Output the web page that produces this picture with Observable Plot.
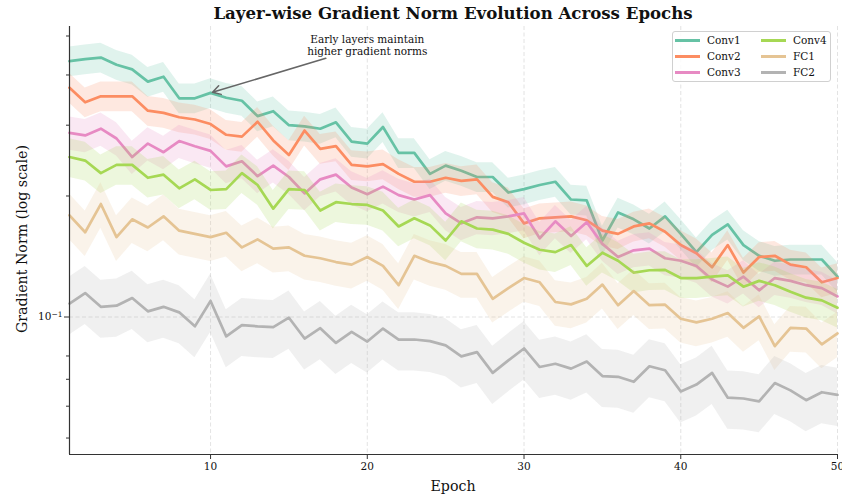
<!DOCTYPE html>
<html><head><meta charset="utf-8">
<script src="https://cdn.jsdelivr.net/npm/d3@7"></script>
<script src="https://cdn.jsdelivr.net/npm/@observablehq/plot@0.6"></script>
<style>
body{margin:0;background:#fff;font-family:"DejaVu Serif",serif;color:#111;}
#wrap{position:relative;width:842px;height:498px;overflow:hidden;}
#title{position:absolute;left:69px;width:768px;top:4px;text-align:center;font-weight:bold;font-size:16.6px;line-height:19px;}
#ylab{position:absolute;left:22px;top:239px;transform:translate(-50%,-50%) rotate(-90deg);font-size:14.2px;white-space:nowrap;}
#xlab{position:absolute;left:453px;top:486px;transform:translate(-50%,-50%);font-size:14.2px;white-space:nowrap;}
#legend{position:absolute;left:672px;top:31px;width:157px;height:49px;border:1px solid #d0d0d0;border-radius:3px;background:rgba(255,255,255,0.85);font-size:10.5px;}
.li{position:absolute;display:flex;align-items:center;height:14px;transform:translateY(-50%);}
.sw{display:inline-block;width:25px;height:3px;margin-right:7px;}
</style></head>
<body>
<div id="wrap">
  <div id="chart"></div>
  <div id="title">Layer-wise Gradient Norm Evolution Across Epochs</div>
  <div id="ylab">Gradient Norm (log scale)</div>
  <div id="xlab">Epoch</div>
  <div id="legend"></div>
</div>
<script>
const epochs = d3.range(1, 51);
const layers = ["Conv1", "Conv2", "Conv3", "Conv4", "FC1", "FC2"];
const colors = ["#66c2a5", "#fc8d62", "#e78ac3", "#a6d854", "#e5c494", "#b3b3b3"];
const spread = [0.085, 0.085, 0.095, 0.11, 0.13, 0.165];

const conv1 = [0.433,0.438,0.442,0.424,0.413,0.385,0.396,0.350,0.350,0.361,
               0.351,0.345,0.316,0.325,0.300,0.298,0.294,0.305,0.273,0.270,
               0.297,0.256,0.256,0.227,0.238,0.231,0.223,0.223,0.204,0.208,
               0.213,0.217,0.196,0.195,0.155,0.182,0.175,0.166,0.178,0.161,
               0.145,0.160,0.170,0.151,0.142,0.138,0.139,0.139,0.139,0.126];
const conv2 = [0.372,0.342,0.354,0.354,0.354,0.326,0.322,0.314,0.310,0.302,
               0.284,0.281,0.306,0.275,0.253,0.291,0.262,0.266,0.239,0.237,
               0.240,0.227,0.217,0.217,0.222,0.218,0.220,0.199,0.193,0.171,
               0.176,0.177,0.178,0.174,0.164,0.161,0.168,0.171,0.163,0.151,
               0.144,0.133,0.151,0.129,0.141,0.142,0.135,0.133,0.122,0.125];
const conv3 = [0.287,0.283,0.294,0.278,0.250,0.270,0.257,0.274,0.266,0.259,
               0.237,0.244,0.224,0.238,0.223,0.203,0.220,0.226,0.210,0.202,
               0.211,0.201,0.196,0.201,0.181,0.171,0.177,0.176,0.178,0.181,
               0.157,0.173,0.159,0.172,0.152,0.141,0.1465,0.148,0.140,0.138,
               0.134,0.124,0.119,0.126,0.1165,0.125,0.123,0.120,0.118,0.1125];
const conv4 = [0.250,0.245,0.228,0.239,0.239,0.222,0.226,0.209,0.220,0.207,
               0.208,0.228,0.213,0.186,0.208,0.207,0.184,0.193,0.191,0.190,
               0.184,0.168,0.176,0.169,0.155,0.173,0.166,0.165,0.161,0.153,
               0.147,0.145,0.151,0.134,0.1445,0.138,0.129,0.1307,0.131,0.125,
               0.125,0.126,0.127,0.119,0.123,0.120,0.1155,0.1117,0.110,0.1055];
const fc1 =   [0.179,0.1625,0.191,0.158,0.175,0.167,0.178,0.164,0.161,0.158,
               0.162,0.149,0.156,0.148,0.149,0.142,0.140,0.137,0.135,0.141,
               0.134,0.120,0.142,0.137,0.134,0.128,0.128,0.111,0.118,0.125,
               0.122,0.109,0.1075,0.111,0.1204,0.107,0.116,0.107,0.1073,0.099,
               0.097,0.099,0.1023,0.094,0.1004,0.0846,0.094,0.0936,0.0855,0.091];
const fc2 =   [0.108,0.1147,0.106,0.1067,0.1115,0.1033,0.106,0.1027,0.0948,0.1096,
               0.0895,0.0955,0.0948,0.0944,0.0996,0.0884,0.0938,0.0862,0.0918,0.0869,
               0.0936,0.0879,0.0879,0.0871,0.085,0.0798,0.0818,0.0726,0.078,0.0835,
               0.0751,0.0765,0.0744,0.0775,0.0713,0.071,0.069,0.0754,0.0737,0.0653,
               0.0679,0.0726,0.063,0.0627,0.0617,0.0685,0.0657,0.0621,0.065,0.064];

const xTicks = [10, 20, 30, 40, 50];
const yMajor = [0.1];
const yMajorLabel = ["10", "−1"];
const yMinor = [0.05, 0.06, 0.07, 0.08, 0.2, 0.3, 0.4, 0.5];
const yDomain = [0.0455, 0.528];
const annotation = {x: 20, y: 0.475, text: "Early layers maintain\nhigher gradient norms"};
const arrowFrom = {x: 17.35, y: 0.44};
const arrowEpoch = 10;

const series = [conv1, conv2, conv3, conv4, fc1, fc2];

const marks = [
  Plot.gridX(xTicks, {stroke: "#b0b0b0", strokeOpacity: 0.45, strokeDasharray: "4,2.5", strokeWidth: 0.8}),
  Plot.gridY(yMajor, {stroke: "#b0b0b0", strokeOpacity: 0.45, strokeDasharray: "4,2.5", strokeWidth: 0.8})
];
layers.forEach((name, i) => {
  const rows = epochs.map((e, j) => ({
    epoch: e, v: series[i][j],
    lo: series[i][j] * (1 - spread[i]),
    hi: series[i][j] * (1 + spread[i])
  }));
  marks.push(Plot.areaY(rows, {x: "epoch", y1: "lo", y2: "hi", fill: colors[i], fillOpacity: 0.2}));
  marks.push(Plot.lineY(rows, {x: "epoch", y: "v", stroke: colors[i], strokeWidth: 2.7}));
});
marks.push(
  Plot.ruleX([1], {stroke: "#333", strokeWidth: 1.2}),
  Plot.ruleY([yDomain[0]], {stroke: "#333", strokeWidth: 1.2}),
  Plot.axisX(xTicks, {tickSize: 5, tickPadding: 3, fontSize: 10.5, stroke: "#333", label: null}),
  Plot.axisY(yMajor, {tickSize: 5, tickPadding: 2, fontSize: 10.5, stroke: "#333", tickFormat: () => "10^-1", label: null}),
  Plot.axisY(yMinor, {tickSize: 3, stroke: "#333", tickFormat: () => "", label: null}),
  Plot.arrow([{x1: arrowFrom.x, y1: arrowFrom.y, x2: arrowEpoch, y2: conv1[arrowEpoch - 1]}],
    {x1: "x1", y1: "y1", x2: "x2", y2: "y2", stroke: "#666", strokeWidth: 1.5, headLength: 9, insetEnd: 2, bend: 0}),
  Plot.text([annotation], {x: "x", y: "y", text: "text", fontSize: 10.5, lineHeight: 1.15, textAnchor: "middle", lineAnchor: "middle", fill: "#111"})
);

const chart = Plot.plot({
  width: 842, height: 498,
  marginLeft: 69, marginRight: 5, marginTop: 26, marginBottom: 44,
  style: {fontFamily: "DejaVu Serif", background: "white", color: "#111", overflow: "visible"},
  x: {domain: [1, 50]},
  y: {type: "log", domain: yDomain},
  marks
});
// render the 10^-1 label with a proper superscript
d3.select(chart).selectAll("text").filter(function () { return this.textContent === "10^-1"; })
  .each(function () {
    const t = d3.select(this);
    t.text(null);
    t.append("tspan").text(yMajorLabel[0]);
    t.append("tspan").attr("font-size", "7.5px").attr("dy", "-0.45em").text(yMajorLabel[1]);
  });
document.getElementById("chart").appendChild(chart);

const legend = document.getElementById("legend");
layers.forEach((name, i) => {
  const col = Math.floor(i / 3), row = i % 3;
  const d = document.createElement("div");
  d.className = "li";
  d.style.left = (2 + col * 86) + "px";
  d.style.top = (8 + row * 16.2) + "px";
  d.innerHTML = `<span class="sw" style="background:${colors[i]}"></span><span>${name}</span>`;
  legend.appendChild(d);
});
</script>
</body></html>
